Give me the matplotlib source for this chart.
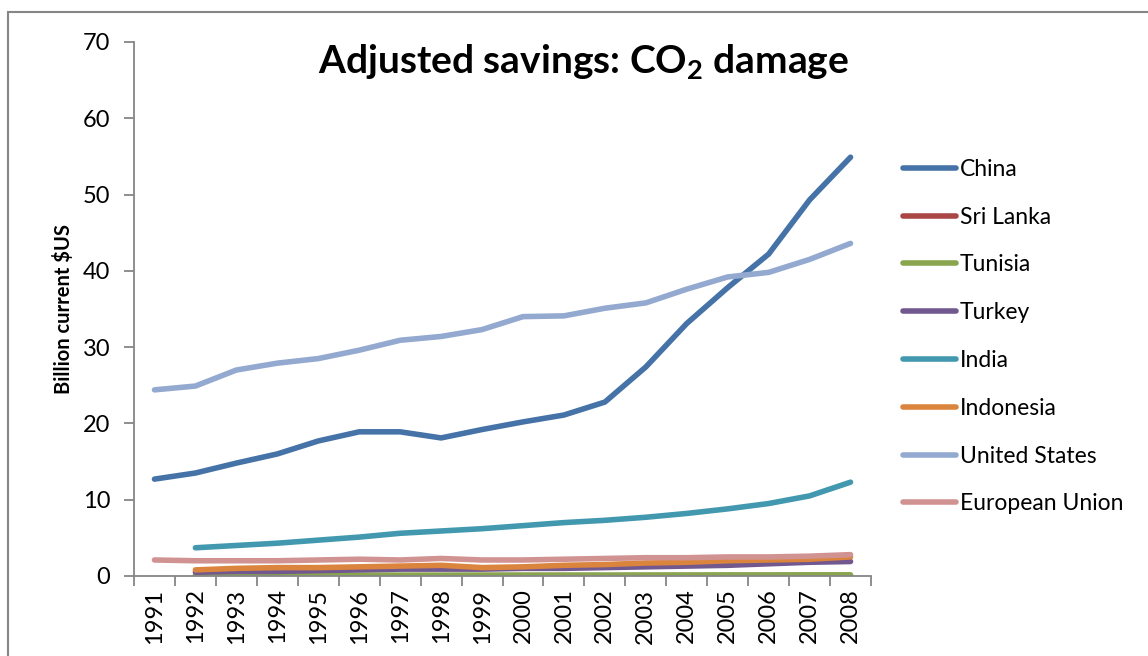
import numpy as np
import matplotlib
matplotlib.use("Agg")
import matplotlib.pyplot as plt
from matplotlib.patches import Rectangle

plt.rcParams['font.family'] = ['Lato', 'DejaVu Sans']
plt.rcParams['mathtext.fontset'] = 'custom'
plt.rcParams['mathtext.rm'] = 'Lato'
plt.rcParams['mathtext.bf'] = 'Lato:bold'

years = list(range(1991, 2009))
# series with no 1991 value start at 1992 (None = missing)
china = [12.7, 13.5, 14.8, 16.0, 17.7, 18.9, 18.9, 18.1, 19.2, 20.2, 21.1, 22.8, 27.4, 33.1, 37.8, 42.2, 49.3, 54.9]
sri_lanka = [None, 0.03, 0.03, 0.03, 0.03, 0.04, 0.04, 0.04, 0.04, 0.05, 0.05, 0.05, 0.05, 0.06, 0.06, 0.06, 0.07, 0.07]
tunisia = [None, 0.10, 0.10, 0.10, 0.11, 0.11, 0.11, 0.11, 0.12, 0.12, 0.12, 0.12, 0.13, 0.13, 0.14, 0.14, 0.15, 0.15]
turkey = [None, 0.5, 0.6, 0.6, 0.7, 0.8, 0.9, 0.9, 0.9, 1.0, 1.0, 1.1, 1.2, 1.3, 1.4, 1.6, 1.8, 1.9]
india = [None, 3.7, 4.0, 4.3, 4.7, 5.1, 5.6, 5.9, 6.2, 6.6, 7.0, 7.3, 7.7, 8.2, 8.8, 9.5, 10.5, 12.3]
indonesia = [None, 0.8, 1.0, 1.1, 1.1, 1.2, 1.3, 1.4, 1.1, 1.2, 1.4, 1.5, 1.7, 1.8, 2.0, 2.1, 2.2, 2.5]
united_states = [24.4, 24.9, 27.0, 27.9, 28.5, 29.6, 30.9, 31.4, 32.3, 34.0, 34.1, 35.1, 35.8, 37.6, 39.2, 39.8, 41.5, 43.6]
european_union = [2.1, 2.0, 2.0, 2.0, 2.1, 2.2, 2.1, 2.3, 2.1, 2.1, 2.2, 2.3, 2.4, 2.4, 2.5, 2.5, 2.6, 2.8]

names = ['China', 'Sri Lanka', 'Tunisia', 'Turkey', 'India', 'Indonesia', 'United States', 'European Union']
series = [china, sri_lanka, tunisia, turkey, india, indonesia, united_states, european_union]
colors = ['#4572A7', '#AA4643', '#89A54E', '#71588F', '#4198AF', '#DB843D', '#93A9CF', '#D19392']

fig = plt.figure(figsize=(11.48, 6.56), dpi=100)
ax = fig.add_axes([134/1148, 80/656, (871-134)/1148, (576-42)/656])

x = np.arange(len(years))
for name, vals, c in zip(names, series, colors):
    v = np.array([np.nan if a is None else a for a in vals], dtype=float)
    ax.plot(x, v, color=c, lw=4.0, solid_capstyle='round', solid_joinstyle='round', label=name)

ax.set_xlim(-0.5, len(years) - 0.5)
ax.set_ylim(0, 70)
ax.set_yticks(range(0, 71, 10))
ax.set_xticks(x)
ax.set_xticklabels([str(y) for y in years], rotation=90)
ax.set_xticks(np.arange(-0.5, len(years)), minor=True)
ax.tick_params(axis='x', which='major', length=0, pad=9, labelsize=17)
ax.tick_params(axis='x', which='minor', length=7, width=1.3, color='#868686', direction='out')
ax.tick_params(axis='y', length=7, width=1.3, color='#868686', labelsize=17, pad=10)

for s in ['top', 'right']:
    ax.spines[s].set_visible(False)
for s in ['left', 'bottom']:
    ax.spines[s].set_color('#868686')
    ax.spines[s].set_linewidth(1.3)

ax.set_ylabel('Billion current $US', fontsize=14.5, fontweight='bold', labelpad=6)

fig.text(584/1148, 1 - 62/656, r'Adjusted savings: CO$_\mathbf{2}$ damage', fontsize=28,
         fontweight='bold', ha='center', va='center')

leg = ax.legend(loc='upper left', bbox_to_anchor=(1.016, 0.82), frameon=False,
                fontsize=16.5, handlelength=2.3, handletextpad=0.15, labelspacing=1.17)

# outer chart border (cut off at right and bottom)
fig.add_artist(Rectangle((8/1148, -0.1), 1.2, 1.1 - 12/656, transform=fig.transFigure,
                         fill=False, edgecolor='#868686', lw=1.5, clip_on=False))

fig.savefig('out.png', dpi=100)
